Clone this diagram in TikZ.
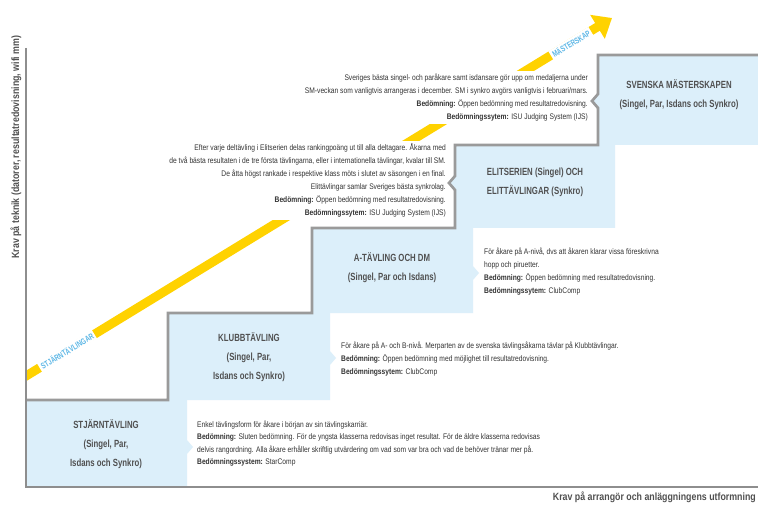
\documentclass[tikz,border=0pt]{standalone}
\usepackage{fontspec}
\setmainfont{Liberation Sans}[FakeStretch=0.825]
\newfontfamily\hdrff{Liberation Sans}[FakeStretch=0.75]
\newfontfamily\lblff{Liberation Sans}[FakeStretch=0.72]
\newfontfamily\axisff{Liberation Sans}[FakeStretch=0.84]
\usetikzlibrary{arrows.meta}
\definecolor{stairgray}{HTML}{9A9A9A}
\definecolor{axisgray}{HTML}{8E8E8E}
\definecolor{boxblue}{HTML}{DCEFFA}
\definecolor{arrowyellow}{HTML}{FFD200}
\definecolor{labelblue}{HTML}{5DB7E6}
\definecolor{txtgray}{HTML}{333333}
\definecolor{hdrgray}{HTML}{505050}
\newcommand{\bodyfnt}{\fontsize{8.1}{13}\selectfont}
\newcommand{\bodyfntA}{\fontsize{8.1}{12.4}\selectfont}
\newcommand{\hdrfnt}{\hdrff\bfseries\fontsize{10.4}{19}\selectfont}
\newcommand{\lblfnt}{\lblff\bfseries\fontsize{8.5}{9}\selectfont}
\newcommand{\axisfnt}{\axisff\bfseries\fontsize{10.5}{12}\selectfont}
\tikzset{
  stair/.style={draw=stairgray, line width=2.7pt, line join=miter},
  axisline/.style={draw=axisgray, line width=2pt},
  bluebox/.style={fill=boxblue},
  body/.style={font=\bodyfnt, text=txtgray, inner sep=0pt},
  hdrtext/.style={font=\hdrfnt, text=hdrgray, align=center, inner sep=0pt},
  bandlabel/.style={font=\lblfnt, text=labelblue, fill=white, inner xsep=2pt, inner ysep=1.5pt, rotate=31.4},
  band/.style={draw=arrowyellow, line width=9pt, -{Triangle[length=17pt,width=27pt]}},
}
\begin{document}
\begin{tikzpicture}[x=1pt,y=-1pt]
\useasboundingbox (0,0) rectangle (758,505);
\fill[white] (0,0) rectangle (758,505);
% blue step boxes
\fill[bluebox] (26,400) -- (187,400) -- (187,440) -- (193,447) -- (187,454) -- (187,487) -- (26,487) -- cycle;
\fill[bluebox] (168,313) -- (330,313) -- (330,351) -- (336,358) -- (330,365) -- (330,400) -- (168,400) -- cycle;
\fill[bluebox] (312,228) -- (473,228) -- (473,266) -- (479,273) -- (473,280) -- (473,313) -- (312,313) -- cycle;
\fill[bluebox] (455,145) -- (615,145) -- (615,228) -- (455,228) -- (455,190) -- (449,183) -- (455,176) -- cycle;
\fill[bluebox] (598,55) -- (758,55) -- (758,145) -- (598,145) -- (598,108) -- (592,101) -- (598,94) -- cycle;
% yellow arrow
\coordinate (bandstart) at (20,379.7);
\coordinate (bandend) at (612,18);
\begin{scope}
\clip (26,0) rectangle (758,505);
\draw[band] (bandstart) -- (bandend);
\end{scope}
\node[bandlabel] (lblstar) at (67,351) {STJÄRNTÄVLINGAR};
\node[bandlabel] (lblsm) at (571,43.5) {MÄSTERSKAP};
% stair outline
\draw[stair] (26,400) -- (168,400) -- (168,313) -- (312,313) -- (312,228) -- (455,228) -- (455,190) -- (449,183) -- (455,176) -- (455,145) -- (598,145) -- (598,108) -- (592,101) -- (598,94) -- (598,55) -- (758,55);
% axes
\draw[axisline] (26,48) -- (26,487) -- (758,487);
\node[font=\axisfnt, text=hdrgray, rotate=90, inner sep=0pt] (yaxis) at (16,147) {Krav på teknik (datorer, resultatredovisning, wifi mm)};
\node[font=\axisfnt, text=hdrgray, anchor=east, inner sep=0pt] (xaxis) at (756,497) {Krav på arrangör och anläggningens utformning};
% headers
\node[hdrtext] (h1) at (106,444) {STJÄRNTÄVLING\\(Singel, Par,\\Isdans och Synkro)};
\node[hdrtext] (h2) at (249,357) {KLUBBTÄVLING\\(Singel, Par,\\Isdans och Synkro)};
\node[hdrtext] (h3) at (392,268) {A-TÄVLING OCH DM\\(Singel, Par och Isdans)};
\node[hdrtext] (h4) at (535,182) {ELITSERIEN (Singel) OCH\\ELITTÄVLINGAR (Synkro)};
\node[hdrtext] (h5) at (679,95) {SVENSKA MÄSTERSKAPEN\\(Singel, Par, Isdans och Synkro)};
% descriptions
\node[body, font=\bodyfntA, align=left, anchor=north west] (t1) at (197,420.5) {Enkel tävlingsform för åkare i början av sin tävlingskarriär.\\
\textbf{Bedömning:} Sluten bedömning. För de yngsta klasserna redovisas inget resultat. För de äldre klasserna redovisas\\
delvis rangordning. Alla åkare erhåller skriftlig utvärdering om vad som var bra och vad de behöver tränar mer på.\\
\textbf{Bedömningssystem:} StarComp};
\node[body, align=left, anchor=north west] (t2) at (341,342) {För åkare på A- och B-nivå. Merparten av de svenska tävlingsåkarna tävlar på Klubbtävlingar.\\
\textbf{Bedömning:} Öppen bedömning med möjlighet till resultatredovisning.\\
\textbf{Bedömningssytem:} ClubComp};
\node[body, align=left, anchor=north west] (t3) at (484,247.5) {För åkare på A-nivå, dvs att åkaren klarar vissa föreskrivna\\
hopp och piruetter.\\
\textbf{Bedömning:} Öppen bedömning med resultatredovisning.\\
\textbf{Bedömningssytem:} ClubComp};
\node[body, align=right, anchor=north east, fill=white, inner ysep=3pt] (t4) at (446,140.5) {Efter varje deltävling i Elitserien delas rankingpoäng ut till alla deltagare. Åkarna med\\
de två bästa resultaten i de tre första tävlingarna, eller i internationella tävlingar, kvalar till SM.\\
De åtta högst rankade i respektive klass möts i slutet av säsongen i en final.\\
Elittävlingar samlar Sveriges bästa synkrolag.\\
\textbf{Bedömning:} Öppen bedömning med resultatredovisning.\\
\textbf{Bedömningssytem:} ISU Judging System (IJS)};
\node[body, align=right, anchor=north east, fill=white, inner ysep=3pt] (t5) at (588,71) {Sveriges bästa singel- och paråkare samt isdansare gör upp om medaljerna under\\
SM-veckan som vanligtvis arrangeras i december. SM i synkro avgörs vanligtvis i februari/mars.\\
\textbf{Bedömning:} Öppen bedömning med resultatredovisning.\\
\textbf{Bedömningssytem:} ISU Judging System (IJS)};
\end{tikzpicture}
\end{document}
